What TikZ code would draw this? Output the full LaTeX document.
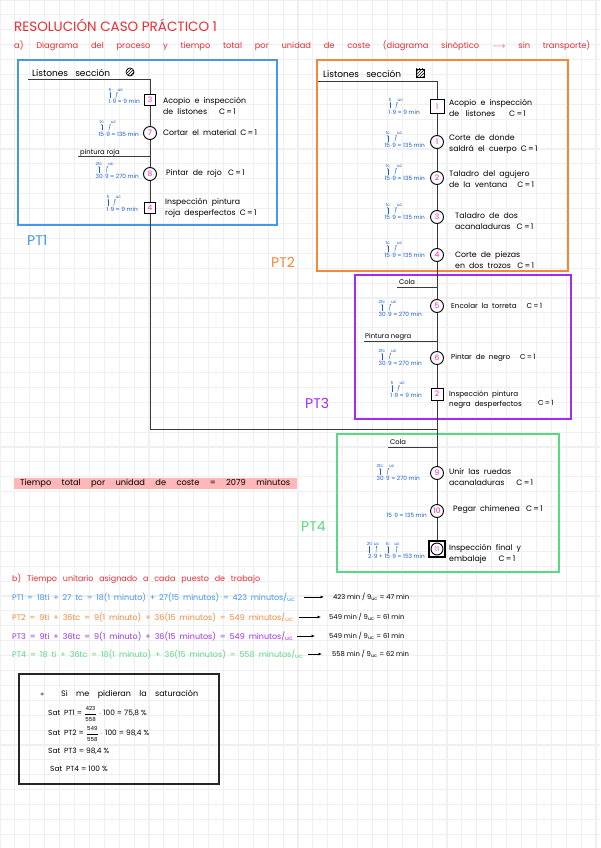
\documentclass[tikz,border=0pt]{standalone}
\usepackage{fontspec}
\setmainfont{Poppins}
\usetikzlibrary{calc,arrows.meta,patterns}
\definecolor{gridgray}{HTML}{F0F0F0}
\definecolor{titlered}{HTML}{EE2B35}
\definecolor{pt1c}{HTML}{4696EC}
\definecolor{pt2c}{HTML}{F4883A}
\definecolor{pt3c}{HTML}{A22DEF}
\definecolor{pt4c}{HTML}{58DA80}
\definecolor{annblue}{HTML}{1D5FD2}
\definecolor{numpink}{HTML}{FF1FD0}
\definecolor{linegray}{HTML}{3A3A3A}
\definecolor{hl}{HTML}{FFB7B7}
\newcommand\md{\ensuremath{\cdot}}
\newcommand\ann[7]{%
 \node[annf,anchor=base east] (#1) at #2 {#3};
 \node[annl,anchor=base] (#1a) at ($(#1.base west)+(#5,-12.5)$) {#4};
 \draw[annarr] ($(#1.base west)+(#5,-5.5)$) -- (#1a.south);
 \node[annl,anchor=base west] (#1b) at ($(#1.base west)+(#7,-12.5)$) {#6};
 \draw[annarr] ($(#1.base west)+(#7-1.5,-5.5)$) -- (#1b.south west);
}
\begin{document}
\begin{tikzpicture}[x=1pt,y=-1pt,
 gridc/.style={draw=gridgray,line width=1.1pt},
 conn/.style={draw=linegray,line width=0.9pt},
 opc/.style={circle,draw=black,line width=0.9pt,fill=white,minimum size=13pt,inner sep=0pt,text=numpink,font=\fontsize{7.5}{8}\selectfont},
 insp/.style={rectangle,draw=black,line width=1pt,fill=white,minimum size=11pt,inner sep=0pt,text=numpink,font=\fontsize{7.5}{8}\selectfont},
 lab/.style={anchor=west,align=left,inner sep=0pt,font=\fontsize{7.8}{11}\selectfont},
 annf/.style={text=annblue,inner sep=0pt,font=\fontsize{5.8}{6}\selectfont},
 annl/.style={text=annblue,inner sep=0.3pt,font=\fontsize{4.3}{4}\selectfont},
 annarr/.style={draw=annblue,line width=0.4pt,-{Stealth[length=1.3pt,width=1.3pt]}},
 ptbox/.style={line width=1.6pt},
 ptlab/.style={anchor=west,inner sep=0pt,font=\fontsize{14}{14}\selectfont},
 hdr/.style={anchor=west,inner sep=0pt,font=\fontsize{9}{9}\selectfont},
 small/.style={anchor=west,inner sep=0pt,font=\fontsize{6.8}{7}\selectfont},
 rowtxt/.style={anchor=west,inner sep=0pt,font=\fontsize{8}{8}\selectfont},
 restxt/.style={anchor=west,inner sep=0pt,font=\fontsize{6.8}{7}\selectfont},
 barrow/.style={draw=black,line width=0.9pt,-{Latex[length=3.5pt,width=3pt]}},
 boxtxt/.style={anchor=west,inner sep=0pt,font=\fontsize{7.4}{8}\selectfont}]
\useasboundingbox (0,0) rectangle (600,848);
\fill[white] (0,0) rectangle (600,848);
\foreach \i in {0,...,40} \draw[gridc] (\i*14.9,0) -- (\i*14.9,848);
\foreach \j in {0,...,57} \draw[gridc] (0,\j*14.9) -- (600,\j*14.9);

% ---------- titles
\node[anchor=west,inner sep=0pt,text=titlered,font=\fontsize{13.5}{14}\selectfont] (title) at (14,25) {RESOLUCIÓN\ CASO\ PRÁCTICO 1};
\node[anchor=west,inner sep=0pt,text=titlered,font=\fontsize{8.3}{9}\selectfont] (subt) at (14,46) {\makebox[576pt][s]{a) Diagrama del proceso y tiempo total por unidad de coste (diagrama sinóptico $\longrightarrow$ sin transporte)}};

% ---------- boxes
\draw[ptbox,draw=pt1c] (18,60) rectangle (277,225);
\draw[ptbox,draw=pt2c] (317,60) rectangle (568,271);
\draw[ptbox,draw=pt3c] (355,275) rectangle (571,419);
\draw[ptbox,draw=pt4c] (337,434) rectangle (559,572);
\node[ptlab,text=pt1c] (lpt1) at (27,240) {PT1};
\node[ptlab,text=pt2c] (lpt2) at (271,262) {PT2};
\node[ptlab,text=pt3c] (lpt3) at (305,403) {PT3};
\node[ptlab,text=pt4c] (lpt4) at (301,526) {PT4};

% ---------- headers
\node[hdr] (h1) at (32,73) {Listones\ \ \ sección};
\node[circle,draw=black,line width=0.7pt,minimum size=8pt,inner sep=0pt,pattern=north east lines] (ic1) at (130,72) {};
\node[hdr] (h2) at (323,74) {Listones\ \ \ sección};
\node[rectangle,draw=black,line width=0.7pt,minimum size=8pt,inner sep=0pt,pattern=north east lines] (ic2) at (420,73) {};

% ---------- coordinates
\coordinate (l1s) at (28,79);
\coordinate (l1c) at (150,79);
\coordinate (pra) at (78,156);
\coordinate (prb) at (150,156);
\coordinate (l1b) at (150,429);
\coordinate (jn) at (437,429);
\coordinate (l2s) at (318,81);
\coordinate (l2c) at (437,81);
\coordinate (c1a) at (397,287);
\coordinate (c1b) at (437,287);
\coordinate (pna) at (364,341);
\coordinate (pnb) at (437,341);
\coordinate (c2a) at (388,447);
\coordinate (c2b) at (437,447);

% ---------- PT1 nodes
\node[insp] (s3) at (150,100) {3};
\node[opc] (c7) at (150,133) {7};
\node[opc] (c8) at (150,174) {8};
\node[insp] (s4) at (150,208) {4};
% ---------- PT2 nodes
\node[insp,minimum size=14pt] (q1) at (437,107) {1};
\node[opc] (o1) at (437,142) {1};
\node[opc] (o2) at (437,178) {2};
\node[opc] (o3) at (437,217) {3};
\node[opc] (o4) at (437,255) {4};
% ---------- PT3 nodes
\node[opc] (o5) at (437,306) {5};
\node[opc] (o6) at (437,358) {6};
\node[insp,minimum size=12pt] (q2) at (437,394) {2};
% ---------- PT4 nodes
\node[opc] (o9) at (437,473) {9};
\node[opc] (o10) at (437,511) {10};
\node[insp,minimum size=16pt,line width=1.2pt] (q11) at (437,549) {};
\node[opc,minimum size=12pt,font=\fontsize{6.5}{7}\selectfont] (o11) at (q11.center) {11};

% ---------- connectors
\draw[conn] (l1s) -- (l1c) -- (s3);
\draw[conn] (s3) -- (c7);
\draw[conn] (c7) -- (c8);
\draw[conn] (pra) -- (prb);
\draw[conn] (c8) -- (s4);
\draw[conn] (s4) -- (l1b) -- (jn);
\draw[conn] (l2s) -- (l2c) -- (q1);
\draw[conn] (q1) -- (o1);
\draw[conn] (o1) -- (o2);
\draw[conn] (o2) -- (o3);
\draw[conn] (o3) -- (o4);
\draw[conn] (o4) -- (o5);
\draw[conn] (c1a) -- (c1b);
\draw[conn] (o5) -- (o6);
\draw[conn] (pna) -- (pnb);
\draw[conn] (o6) -- (q2);
\draw[conn] (q2) -- (o9);
\draw[conn] (c2a) -- (c2b);
\draw[conn] (o9) -- (o10);
\draw[conn] (o10) -- (q11);

% ---------- branch labels
\node[small,anchor=base west] (tpr) at (80,154) {pintura\ roja};
\node[small,anchor=base west] (tcola1) at (399,284) {Cola};
\node[small,anchor=base west] (tpn) at (365,338) {Pintura\ negra};
\node[small,anchor=base west] (tcola2) at (390,444) {Cola};

% ---------- PT1 labels
\node[lab] (t3) at (163,106) {Acopio\ \ e\ \ inspección\\de\ \ listones\hspace{12pt}C\,=\,1};
\node[lab] (t7) at (163,133) {Cortar\ \ el\ \ material\ \ C\,=\,1};
\node[lab] (t8) at (166,174) {Pintar\ \ de\ \ rojo\ \ \ C\,=\,1};
\node[lab] (t4) at (165,208) {Inspección\ \ pintura\\roja\ \ desperfectos\ \ C\,=\,1};
% ---------- PT2 labels
\node[lab] (tq1) at (449,107.5) {Acopio\ \ e\ \ inspección\\de\ \ \ listones\hspace{14pt}C\,=\,1};
\node[lab] (to1) at (449,144) {Corte\ \ de\ \ donde\\saldrá\ \ el\ \ cuerpo\ \ C\,=\,1};
\node[lab] (to2) at (449,179.5) {Taladro\ \ del\ \ agujero\\de\ \ la\ \ ventana\hspace{10pt}C\,=\,1};
\node[lab] (to3) at (455,221) {Taladro\ \ de\ \ dos\\acanaladuras\ \ \ C\,=\,1};
\node[lab] (to4) at (455,260) {Corte\ \ de\ \ piezas\\en\ \ dos\ \ trozos\ \ \ C\,=\,1};
% ---------- PT3 labels
\node[lab,font=\fontsize{7.2}{10}\selectfont] (to5) at (451,306) {Encolar\ \ la\ \ torreta\hspace{10pt}C\,=\,1};
\node[lab,font=\fontsize{7.2}{10}\selectfont] (to6) at (451,358) {Pintar\ \ de\ \ negro\hspace{10pt}C\,=\,1};
\node[lab,font=\fontsize{7.2}{10}\selectfont] (tq2) at (449,400) {Inspección\ \ pintura\\negra\ \ desperfectos};
\node[lab,font=\fontsize{7.2}{10}\selectfont] (tq2c) at (538,403) {C\,=\,1};
% ---------- PT4 labels
\node[lab] (to9) at (449,477) {Unir\ \ las\ \ ruedas\\acanaladuras\hspace{12pt}C\,=\,1};
\node[lab] (to10) at (453,510) {Pegar\ \ chimenea\ \ \ C\,=\,1};
\node[lab] (to11) at (449,554) {Inspección\ \ final\ \ y\\embalaje\hspace{12pt}C\,=\,1};

% ---------- annotations
\ann{a3}{(140,104)}{1\md 9 = 9 min}{ti}{2}{uc}{9}
\ann{a7}{(139,136)}{15\md 9 = 135 min}{tc}{3.5}{uc}{12}
\ann{a8}{(139,178)}{30\md 9 = 270 min}{2tc}{3.5}{uc}{12}
\ann{a4}{(138,211)}{1\md 9 = 9 min}{ti}{2}{uc}{9}
\ann{aq1}{(420,114)}{1\md 9 = 9 min}{ti}{2}{uc}{9}
\ann{ao1}{(425,147)}{15\md 9 = 135 min}{tc}{3.5}{uc}{12}
\ann{ao2}{(425,180)}{15\md 9 = 135 min}{tc}{3.5}{uc}{12}
\ann{ao3}{(425,219)}{15\md 9 = 135 min}{tc}{3.5}{uc}{12}
\ann{ao4}{(425,257)}{15\md 9 = 135 min}{tc}{3.5}{uc}{12}
\ann{ao5}{(422,316)}{30\md 9 = 270 min}{2tc}{3.5}{uc}{12}
\ann{ao6}{(422,365)}{30\md 9 = 270 min}{2tc}{3.5}{uc}{12}
\ann{aq2}{(422,397)}{1\md 9 = 9 min}{ti}{2}{uc}{9}
\ann{ao9}{(420,480)}{30\md 9 = 270 min}{2tc}{3.5}{uc}{12}
\node[annf,anchor=base east] (ao10) at (427,517) {15\md 9 = 135 min};
\node[annf,anchor=base east] (aq11) at (425,558) {2\md 9 + 15\md 9 = 153 min};
\node[annl,anchor=base] (aq11a) at ($(aq11.base west)+(1.5,-12.5)$) {2ti};
\draw[annarr] ($(aq11.base west)+(1.5,-5.5)$) -- (aq11a.south);
\node[annl,anchor=base] (aq11b) at ($(aq11.base west)+(8.5,-12.5)$) {uc};
\draw[annarr] ($(aq11.base west)+(8,-5.5)$) -- (aq11b.south);
\node[annl,anchor=base] (aq11c) at ($(aq11.base west)+(20,-12.5)$) {tc};
\draw[annarr] ($(aq11.base west)+(20,-5.5)$) -- (aq11c.south);
\node[annl,anchor=base] (aq11d) at ($(aq11.base west)+(29,-12.5)$) {uc};
\draw[annarr] ($(aq11.base west)+(28.5,-5.5)$) -- (aq11d.south);

% ---------- tiempo total
\fill[hl] (14,478) rectangle (297,489);
\node[anchor=west,inner sep=0pt,font=\fontsize{8.3}{8}\selectfont] (ttot) at (20,483.5) {\makebox[270pt][s]{Tiempo total por unidad de coste = 2079 minutos}};

% ---------- section b
\node[anchor=west,inner sep=0pt,text=titlered,font=\fontsize{8}{8}\selectfont] (sb) at (12,579) {\makebox[248pt][s]{b) Tiempo unitario asignado a cada puesto de trabajo}};
\node[rowtxt,text=pt1c] (b1) at (12,597) {\makebox[283pt][s]{PT1 = 18ti + 27 tc = 18(1 minuto) + 27(15 minutos) = 423 minutos/\textsubscript{uc}}};
\node[rowtxt,text=pt2c] (b2) at (12,617) {\makebox[281pt][s]{PT2 = 9ti + 36tc = 9(1 minuto) + 36(15 minutos) = 549 minutos/\textsubscript{uc}}};
\node[rowtxt,text=pt3c] (b3) at (12,636) {\makebox[281pt][s]{PT3 = 9ti + 36tc = 9(1 minuto) + 36(15 minutos) = 549 minutos/\textsubscript{uc}}};
\node[rowtxt,text=pt4c] (b4) at (12,654) {\makebox[291pt][s]{PT4 = 18 ti + 36tc = 18(1 minuto) + 36(15 minutos) = 558 minutos/\textsubscript{uc}}};
\node[restxt] (r1) at (333,597) {423 min / 9\textsubscript{uc} = 47 min};
\node[restxt] (r2) at (329,617) {549 min / 9\textsubscript{uc} = 61 min};
\node[restxt] (r3) at (329,636) {549 min / 9\textsubscript{uc} = 61 min};
\node[restxt] (r4) at (332,654) {558 min / 9\textsubscript{uc} = 62 min};
\draw[barrow] ([xshift=9pt]b1.east) -- ([xshift=-9pt]r1.west);
\draw[barrow] ([xshift=6pt]b2.east) -- ([xshift=-8pt]r2.west);
\draw[barrow] ([xshift=4pt]b3.east) -- ([xshift=-14pt]r3.west);
\draw[barrow] ([xshift=5pt]b4.east) -- ([xshift=-10pt]r4.west);

% ---------- saturation box
\draw[line width=1.4pt,draw=black!85] (19,674) rectangle (219,784);
\node[boxtxt,font=\fontsize{8}{8}\selectfont] (s0) at (40,694) {\makebox[158pt][s]{$\ast$\ \ Si me pidieran la saturación}};
\node[boxtxt] (s1) at (48,714) {Sat\ \ PT1 = $\displaystyle\frac{\mbox{\fontsize{5.5}{5}\selectfont 423}}{\mbox{\fontsize{5.5}{5}\selectfont 558}}$ \md\ 100 = 75,8 \%};
\node[boxtxt] (s2) at (48,734) {Sat\ \ PT2 = $\displaystyle\frac{\mbox{\fontsize{5.5}{5}\selectfont 549}}{\mbox{\fontsize{5.5}{5}\selectfont 558}}$ \md\ 100 = 98,4 \%};
\node[boxtxt] (s3t) at (48,751) {Sat\ \ PT3 = 98,4 \%};
\node[boxtxt] (s4t) at (50,769) {Sat\ \ PT4 = 100 \%};
\end{tikzpicture}
\end{document}
